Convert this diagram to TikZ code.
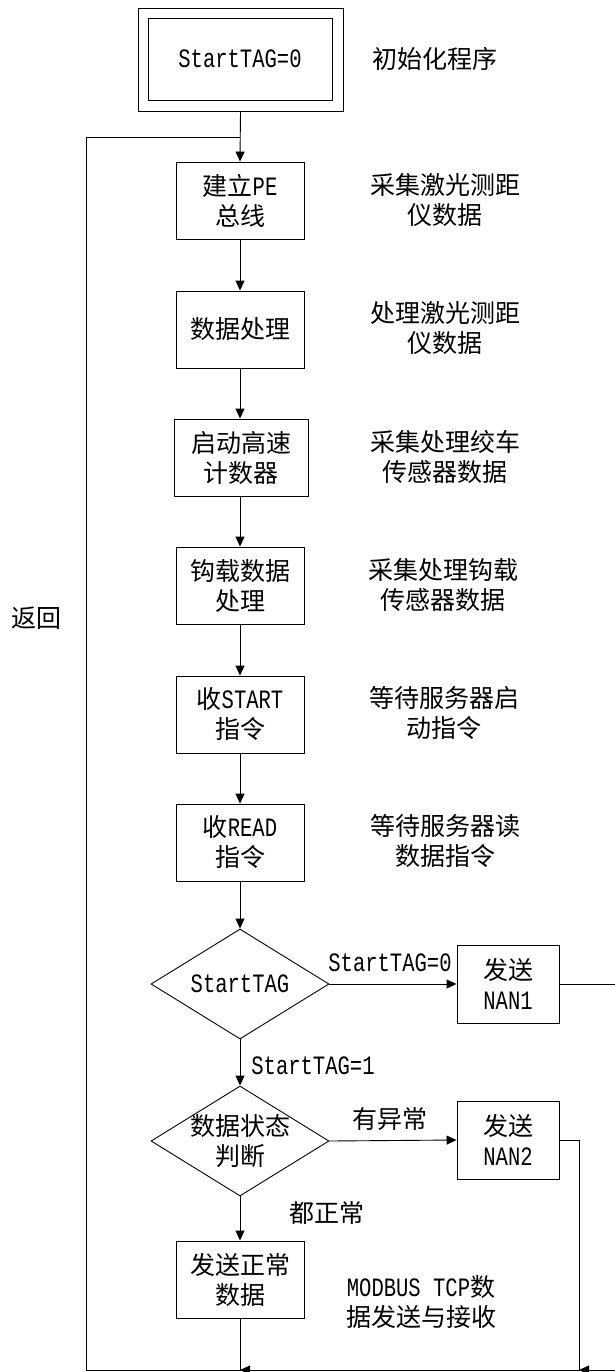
\documentclass[tikz,border=0pt]{standalone}
\usepackage{fontspec}
\setmainfont[FakeStretch=0.775,Scale=1.06]{Liberation Mono}
\newfontfamily\cjk{Noto Sans CJK SC}
\usetikzlibrary{arrows.meta,shapes.geometric}
\begin{document}
\begin{tikzpicture}[x=1pt,y=-1pt,
  every node/.style={font=\fontsize{25}{30}\selectfont, text=black},
  line/.style={draw=black, line width=0.9pt},
  arr/.style={line, -{Triangle[length=10pt,width=9pt]}},
  proc/.style={draw=black, line width=0.9pt, rectangle, inner sep=0pt,
               minimum width=128pt, minimum height=77pt, align=center},
  dia/.style={draw=black, line width=0.9pt, diamond, inner sep=0pt,
              minimum width=178pt, minimum height=110pt},
  note/.style={align=center, inner sep=0pt},
  lab/.style={inner sep=0pt}
]
\useasboundingbox (0,0) rectangle (614,1372);

% start block (double frame)
\node[proc, minimum width=205pt, minimum height=103pt] (startout) at (240.5,59.5) {};
\node[proc, minimum width=184pt, minimum height=82pt] (start) at (240,59) {StartTAG=0};
\node[note] (n0) at (434.5,59) {{\cjk 初始化程序}};

% process chain
\node[proc] (pe) at (240,200.5) {{\cjk 建立}PE\\{\cjk 总线}};
\node[note] (n1) at (445,200) {{\cjk 采集激光测距}\\{\cjk 仪数据}};

\node[proc] (dp) at (240,329.5) {{\cjk 数据处理}};
\node[note] (n2) at (445,328) {{\cjk 处理激光测距}\\{\cjk 仪数据}};

\node[proc, minimum width=134pt] (hs) at (241,457.5) {{\cjk 启动高速}\\{\cjk 计数器}};
\node[note] (n3) at (445,457) {{\cjk 采集处理绞车}\\{\cjk 传感器数据}};

\node[proc] (hook) at (240,585.5) {{\cjk 钩载数据}\\{\cjk 处理}};
\node[note] (n4) at (443,585) {{\cjk 采集处理钩载}\\{\cjk 传感器数据}};

\node[proc] (srt) at (240,714.5) {{\cjk 收}START\\{\cjk 指令}};
\node[note] (n5) at (444,713) {{\cjk 等待服务器启}\\{\cjk 动指令}};

\node[proc] (rd) at (240,842.5) {{\cjk 收}READ\\{\cjk 指令}};
\node[note] (n6) at (445,841) {{\cjk 等待服务器读}\\{\cjk 数据指令}};

% decisions
\node[dia] (d1) at (240,984) {};
\node[lab] (d1t) at (d1.center) {StartTAG};
\node[proc, minimum width=102pt, minimum height=78pt] (nan1) at (508,984) {{\cjk 发送}\\NAN1};

\node[dia] (d2) at (240,1141) {};
\node[note] (d2t) at (240,1141) {{\cjk 数据状态}\\{\cjk 判断}};
\node[proc, minimum width=102pt, minimum height=78pt] (nan2) at (508,1140) {{\cjk 发送}\\NAN2};

\node[proc] (normal) at (240,1279.5) {{\cjk 发送正常}\\{\cjk 数据}};
\node[note] (n7) at (421,1302) {MODBUS TCP{\cjk 数}\\{\cjk 据发送与接收}};

% edge labels
\node[lab] (l0) at (390,963) {StartTAG=0};
\node[lab] (l1) at (313,1066) {StartTAG=1};
\node[lab] (l2) at (390,1119) {{\cjk 有异常}};
\node[lab] (l3) at (327,1213) {{\cjk 都正常}};
\node[lab] (l4) at (36,618) {{\cjk 返回}};

% helper coordinates
\coordinate (jn) at (240,137);
\coordinate (tl) at (86,137);
\coordinate (bl) at (86,1370);
\coordinate (b1) at (240,1370);
\coordinate (b2) at (579,1370);
\coordinate (rb) at (620,1370);

% connectors
\draw[arr] (startout.south) -- (pe.north);
\draw[arr] (pe.south) -- (dp.north);
\draw[arr] (dp.south) -- (dp.south |- hs.north);
\draw[arr] (dp.south |- hs.south) -- (dp.south |- hook.north);
\draw[arr] (hook.south) -- (srt.north);
\draw[arr] (srt.south) -- (rd.north);
\draw[arr] (rd.south) -- (d1.north);
\draw[arr] (d1.east) -- (nan1.west);
\draw[arr] (d1.south) -- (d2.north);
\draw[arr] (d2.east) -- (nan2.west);
\draw[arr] (d2.south) -- (normal.north);

\draw[arr] (nan1.east) -| (rb) -- (b2);
\draw[arr] (nan2.east) -| (b2) -- (b1);
\draw[line] (normal.south) -- (b1) -- (bl) -- (tl) -- (jn);
\end{tikzpicture}
\end{document}
